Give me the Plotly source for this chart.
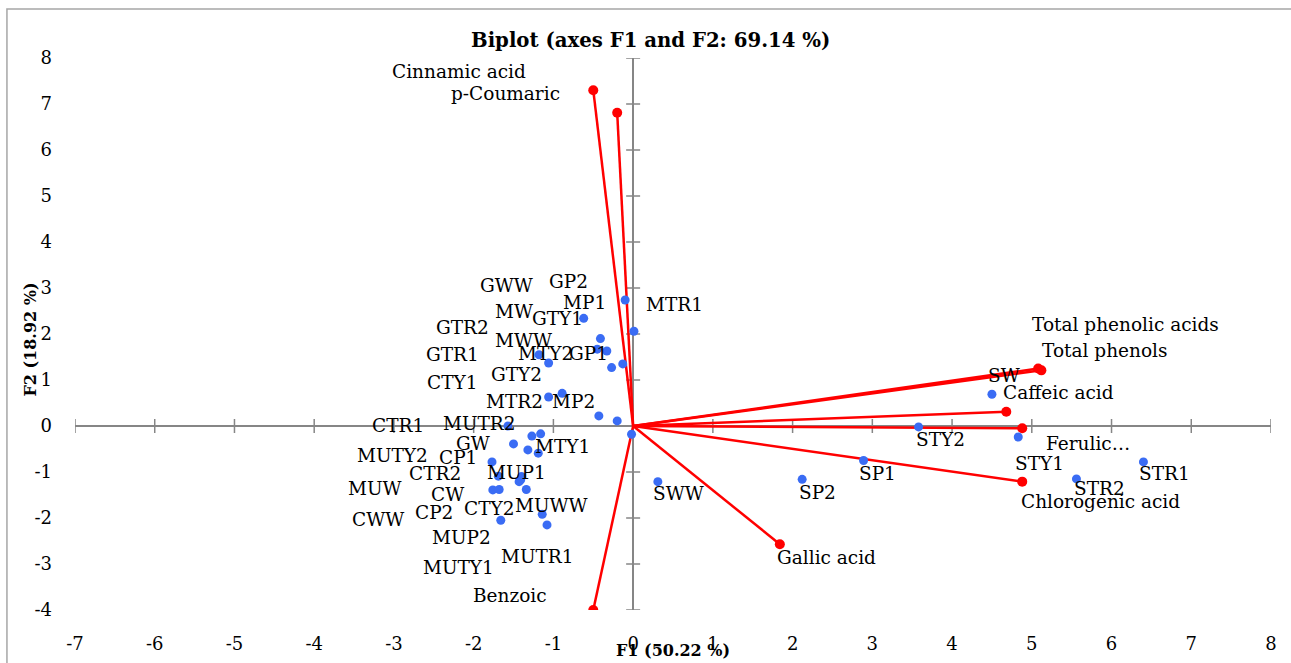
import plotly.graph_objects as go

# ---- Observation scores on the first two factors ----
obs_names = [
    "MTR1", "GP2", "MP1", "GTY1", "GP1", "MWW", "MW", "GWW", "MTY2", "GTY2",
    "MP2", "MTR2", "GTR2", "GTR1", "CTY1",
    "MUTR2", "GW", "MTY1", "CTR1", "MUTY2", "CP1", "MUP1", "CTR2", "MUW", "CW",
    "MUWW", "CWW", "CP2", "CTY2", "MUTR1", "MUP2", "MUTY1",
    "SWW", "SW", "STY2", "STY1", "SP1", "SP2", "STR1", "STR2",
]
obs_f1 = [
    -0.10, 0.01, -0.62, -0.41, -0.45, -0.33, -0.27, -0.13, -1.18, -1.06,
    -0.89, -1.06, -0.43, -0.20, -0.02,
    -1.57, -1.27, -1.16, -1.50, -1.32, -1.19, -1.77, -1.69, -1.40, -1.43,
    -1.34, -1.76, -1.68, -1.14, -1.08, -1.66, -1.41,
    0.31, 4.50, 3.58, 4.83, 2.89, 2.12, 6.40, 5.56,
]
obs_f2 = [
    2.74, 2.06, 2.34, 1.90, 1.67, 1.63, 1.27, 1.35, 1.55, 1.37,
    0.71, 0.63, 0.22, 0.11, -0.18,
    0.00, -0.22, -0.17, -0.39, -0.52, -0.59, -0.78, -1.09, -1.10, -1.21,
    -1.38, -1.39, -1.38, -1.92, -2.15, -2.05, -1.17,
    -1.21, 0.69, -0.02, -0.24, -0.75, -1.16, -0.78, -1.15,
]

# ---- Variable loadings (arrows from the origin) ----
var_names = [
    "Cinnamic acid", "p-Coumaric", "Benzoic", "Gallic acid", "Chlorogenic acid",
    "Ferulic…", "Caffeic acid", "Total phenols", "Total phenolic acids",
]
var_f1 = [-0.50, -0.20, -0.50, 1.84, 4.88, 4.88, 4.68, 5.12, 5.08]
var_f2 = [7.30, 6.81, -4.00, -2.57, -1.21, -0.05, 0.31, 1.21, 1.25]

x_ticks = list(range(-7, 9))
y_ticks = list(range(-4, 9))
x_ticktext = [str(t) for t in x_ticks]
y_ticktext = [str(t) for t in y_ticks]

title_text = "Biplot (axes F1 and F2: 69.14 %)"
x_title = "F1 (50.22 %)"
y_title = "F2 (18.92 %)"

# ---- Label placement (pixel shifts from each mark) ----
obs_label_shift = {
    "MTR1": (49, -5), "GP2": (-65, 50), "MP1": (1, 16), "GTY1": (-43, 20),
    "GP1": (-9, -4), "MWW": (-83, 11), "MW": (-98, 56), "GWW": (-116, 78),
    "MTY2": (6, 1), "GTY2": (-32, -12), "MP2": (11, -8), "MTR2": (-34, -4),
    "GTR2": (-136, 88), "GTR1": (-165, 66), "CTY1": (-180, 52),
    "MUTR2": (-28, 3), "GW": (-59, -7), "MTY1": (22, -13), "CTR1": (-116, 18),
    "MUTY2": (-135, -6), "CP1": (-80, -4), "MUP1": (24, -11), "CTR2": (-63, 3),
    "MUW": (-147, -12), "CW": (-72, -13), "MUWW": (25, -16), "CWW": (-115, -30),
    "CP2": (-65, -23), "CTY2": (-53, 6), "MUTR1": (-10, -32), "MUP2": (-39, -17),
    "MUTY1": (-62, -88),
    "SWW": (21, -12), "SW": (12, 19), "STY2": (22, -13), "STY1": (21, -26),
    "SP1": (14, -13), "SP2": (15, -13), "STR1": (21, -12), "STR2": (23, -10),
}
var_label_shift = {
    "Cinnamic acid": (-134, 19), "p-Coumaric": (-112, 19), "Benzoic": (-83, 15),
    "Gallic acid": (47, -13), "Chlorogenic acid": (78, -20), "Ferulic…": (66, -15),
    "Caffeic acid": (52, 19), "Total phenols": (63, 20),
    "Total phenolic acids": (87, 44),
}

FONT = "DejaVu Serif"
LABEL_SIZE = 18.5
RED = "#ff0000"
BLUE = "#3a6cf4"
AXIS_GREY = "#868686"

fig = go.Figure()

# arrows: origin -> loading
line_x, line_y = [], []
for vx, vy in zip(var_f1, var_f2):
    line_x += [0, vx, None]
    line_y += [0, vy, None]
fig.add_trace(go.Scatter(
    x=line_x, y=line_y, mode="lines",
    line=dict(color=RED, width=2.5), hoverinfo="skip", showlegend=False,
))
fig.add_trace(go.Scatter(
    x=var_f1, y=var_f2, mode="markers", text=var_names,
    marker=dict(color=RED, size=10), showlegend=False,
))

# observations
fig.add_trace(go.Scatter(
    x=obs_f1, y=obs_f2, mode="markers", text=obs_names,
    marker=dict(color=BLUE, size=9), showlegend=False,
))

annotations = []
for name, fx, fy in zip(obs_names, obs_f1, obs_f2):
    dx, dy = obs_label_shift[name]
    annotations.append(dict(
        x=fx, y=fy, xref="x", yref="y", text=name, showarrow=False,
        xshift=dx, yshift=dy, font=dict(family=FONT, size=LABEL_SIZE, color="#000000"),
    ))
for name, fx, fy in zip(var_names, var_f1, var_f2):
    dx, dy = var_label_shift[name]
    annotations.append(dict(
        x=fx, y=fy, xref="x", yref="y", text=name, showarrow=False,
        xshift=dx, yshift=dy, font=dict(family=FONT, size=LABEL_SIZE, color="#000000"),
    ))

# titles
annotations.append(dict(
    x=0.4808, y=1.0326, xref="paper", yref="paper", text="<b>" + title_text + "</b>",
    showarrow=False, xanchor="center", yanchor="middle",
    font=dict(family=FONT, size=19.7, color="#000000"),
))
annotations.append(dict(
    x=0.5, y=-0.0725, xref="paper", yref="paper", text="<b>" + x_title + "</b>",
    showarrow=False, xanchor="center", yanchor="middle",
    font=dict(family=FONT, size=16, color="#000000"),
))
annotations.append(dict(
    x=-0.0376, y=0.49, xref="paper", yref="paper", text="<b>" + y_title + "</b>",
    showarrow=False, xanchor="center", yanchor="middle", textangle=-90,
    font=dict(family=FONT, size=16, color="#000000"),
))

shapes = []
# cross tick marks on the zero axes
for t in x_ticks:
    if t == 0:
        continue
    shapes.append(dict(
        type="line", xref="x", yref="y", ysizemode="pixel", yanchor=0,
        x0=t, x1=t, y0=-7, y1=7, line=dict(color=AXIS_GREY, width=1.5), layer="below",
    ))
for t in y_ticks:
    if t == 0:
        continue
    shapes.append(dict(
        type="line", xref="x", yref="y", xsizemode="pixel", xanchor=0,
        y0=t, y1=t, x0=-7, x1=7, line=dict(color=AXIS_GREY, width=1.5), layer="below",
    ))
# chart-area frame
shapes.append(dict(
    type="rect", xref="paper", yref="paper",
    x0=-0.0569, x1=1.06, y0=-0.14, y1=1.0888,
    line=dict(color="#a6a6a6", width=1.5), fillcolor="rgba(0,0,0,0)", layer="below",
))

fig.update_layout(
    width=1291, height=663,
    margin=dict(l=75, r=20, t=58, b=53, autoexpand=False),
    paper_bgcolor="white", plot_bgcolor="white",
    font=dict(family=FONT, size=18, color="#000000"),
    annotations=annotations, shapes=shapes,
    showlegend=False,
    xaxis=dict(
        range=[-7, 8], tickmode="array", tickvals=x_ticks, ticktext=x_ticktext,
        ticks="", showgrid=False, showline=False, automargin=False,
        zeroline=True, zerolinecolor=AXIS_GREY, zerolinewidth=2,
        ticklabelstandoff=21, tickfont=dict(family=FONT, size=18, color="#000000"),
        fixedrange=True,
    ),
    yaxis=dict(
        range=[-4, 8], tickmode="array", tickvals=y_ticks, ticktext=y_ticktext,
        ticks="", showgrid=False, showline=False, automargin=False,
        zeroline=True, zerolinecolor=AXIS_GREY, zerolinewidth=2,
        ticklabelstandoff=22, tickfont=dict(family=FONT, size=18, color="#000000"),
        fixedrange=True,
    ),
)

fig.write_html("out.html", config={"displayModeBar": False})
